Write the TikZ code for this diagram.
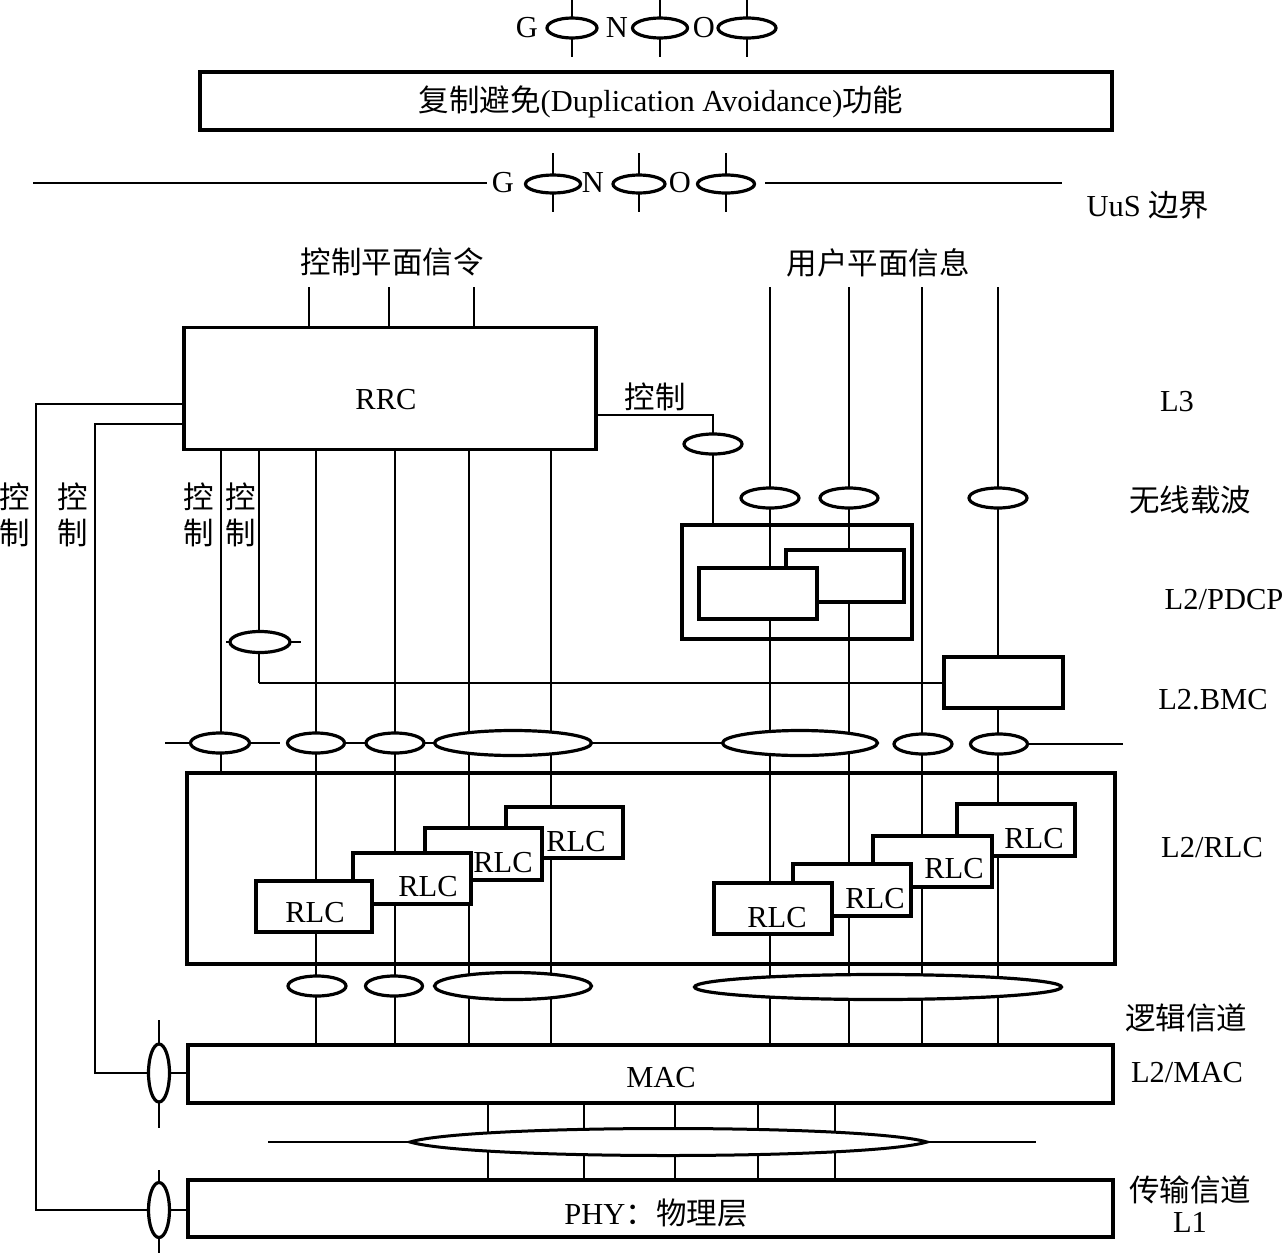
\documentclass[tikz,border=0pt]{standalone}
\usepackage{fontspec}
\setmainfont{Liberation Serif}
\newfontfamily\cjk{Noto Sans CJK SC}
\usetikzlibrary{shapes.geometric,backgrounds}
\begin{document}
\begin{tikzpicture}[x=1pt,y=-1pt,
  font=\fontsize{30.5}{36}\selectfont,
  thinln/.style={line width=1.6pt},
  midln/.style={line width=2.4pt},
  bx/.style={draw,line width=3.4pt,fill=white,inner sep=0pt},
  obx/.style={draw,line width=3.4pt,inner sep=0pt},
  ell/.style={ellipse,draw,line width=3.2pt,fill=white,inner sep=0pt},
  txt/.style={inner sep=0pt},
  cj/.style={inner sep=0pt,font=\fontsize{30.5}{36}\selectfont\cjk},
]
\useasboundingbox (0,0) rectangle (1285,1253);

% ---------- top GNO row ----------
\node[txt] (g1) at (527,28) {G};
\node[ell,minimum width=50,minimum height=20] (e1) at (572,28) {};
\node[txt] (n1) at (617,28) {N};
\node[ell,minimum width=55,minimum height=20] (e2) at (660,28) {};
\node[txt] (o1) at (704,28) {O};
\node[ell,minimum width=58,minimum height=20] (e3) at (747,28) {};
\coordinate (t1) at (572,0);  \coordinate (u1) at (572,57);
\coordinate (t2) at (660,0);  \coordinate (u2) at (660,57);
\coordinate (t3) at (747,0);  \coordinate (u3) at (747,57);

\node[bx,minimum width=912,minimum height=58,
  label={[txt,xshift=5,yshift=-1]center:{\cjk 复制避免}(Duplication Avoidance){\cjk 功能}}] (dup) at (656,101) {};

% ---------- second GNO row ----------
\node[txt] (g2) at (503,183) {G};
\node[ell,minimum width=55,minimum height=18] (e4) at (553,184) {};
\node[txt] (n2) at (593,183) {N};
\node[ell,minimum width=52,minimum height=18] (e5) at (639,184) {};
\node[txt] (o2) at (680,183) {O};
\node[ell,minimum width=57,minimum height=18] (e6) at (726,184) {};
\coordinate (w1) at (553,153); \coordinate (x1) at (553,212);
\coordinate (w2) at (639,153); \coordinate (x2) at (639,212);
\coordinate (w3) at (726,153); \coordinate (x3) at (726,212);
\coordinate (ll1) at (33,183);  \coordinate (ll2) at (487,183);
\coordinate (lr1) at (765,183); \coordinate (lr2) at (1062,183);
\node[txt] (uus) at (1148,205) {UuS {\cjk 边界}};

% ---------- headers ----------
\node[cj] (cpl) at (392,262) {控制平面信令};
\node[cj] (upl) at (878,263) {用户平面信息};

% ---------- RRC ----------
\node[bx,minimum width=412,minimum height=122,
  label={[txt,xshift=-4,yshift=-11.5]center:RRC}] (rrc) at (390,388.5) {};
\node[cj] (ctrl) at (655,397) {控制};
\node[ell,minimum width=58,minimum height=20] (ctl) at (713,444) {};

% user plane bearers
\node[ell,minimum width=58,minimum height=20] (rb1) at (770,498) {};
\node[ell,minimum width=58,minimum height=20] (rb2) at (849,498) {};
\node[ell,minimum width=58,minimum height=20] (rb3) at (998,498) {};

% PDCP
\node[obx,minimum width=230,minimum height=114] (pdcp) at (797,582) {};
\node[bx,minimum width=118,minimum height=52] (pd2) at (845,576) {};
\node[bx,minimum width=118,minimum height=51] (pd1) at (758,593.5) {};

% control ellipse to BMC
\node[ell,minimum width=60,minimum height=21] (ce) at (260,642) {};
\coordinate (cel) at (226,642); \coordinate (cer) at (301,642);

% BMC
\node[bx,minimum width=119,minimum height=51] (bmc) at (1003.5,682.5) {};

% row of radio bearer ellipses above RLC
\node[ell,minimum width=59,minimum height=20] (a1) at (220,743) {};
\node[ell,minimum width=57,minimum height=20] (a2) at (316,743) {};
\node[ell,minimum width=58,minimum height=20] (a3) at (395,743) {};
\node[ell,minimum width=157,minimum height=25] (a4) at (513,743) {};
\node[ell,minimum width=155,minimum height=25] (a5) at (800,743) {};
\node[ell,minimum width=58,minimum height=20] (a6) at (923,744) {};
\node[ell,minimum width=57,minimum height=20] (a7) at (999,744) {};
\coordinate (a1l) at (165,743); \coordinate (a1r) at (280,743);
\coordinate (a7r) at (1123,744);

% RLC layer
\node[obx,minimum width=928,minimum height=191] (rlc) at (651,868.5) {};
\node[bx,minimum width=117,minimum height=51,
  label={[txt,xshift=11.5,yshift=-9.5]center:RLC}] (b4) at (564.5,832.5) {};
\node[bx,minimum width=117,minimum height=52,
  label={[txt,xshift=19.5,yshift=-9]center:RLC}] (b3) at (483.5,854) {};
\node[bx,minimum width=118,minimum height=51,
  label={[txt,xshift=16,yshift=-8.5]center:RLC}] (b2) at (412,878.5) {};
\node[bx,minimum width=116,minimum height=51,
  label={[txt,xshift=1,yshift=-6.5]center:RLC}] (b1) at (314,906.5) {};
\node[bx,minimum width=118,minimum height=52,
  label={[txt,xshift=18,yshift=-9]center:RLC}] (r4) at (1016,830) {};
\node[bx,minimum width=119,minimum height=51,
  label={[txt,xshift=21.5,yshift=-7.5]center:RLC}] (r3) at (932.5,861.5) {};
\node[bx,minimum width=118,minimum height=52,
  label={[txt,xshift=23,yshift=-9]center:RLC}] (r2) at (852,890) {};
\node[bx,minimum width=118,minimum height=51,
  label={[txt,xshift=4,yshift=-9.5]center:RLC}] (r1) at (773,908.5) {};

% logical channels
\node[ell,minimum width=58,minimum height=20] (l1) at (317,986) {};
\node[ell,minimum width=57,minimum height=20] (l2) at (394,986) {};
\node[ell,minimum width=157,minimum height=27] (l3) at (513,986) {};
\node[ell,minimum width=367,minimum height=25] (l4) at (878,987) {};

% MAC / PHY
\node[bx,minimum width=925,minimum height=58,
  label={[txt,xshift=10.5,yshift=-4]center:MAC}] (mac) at (650.5,1074) {};
\node[bx,minimum width=925,minimum height=57,
  label={[txt,xshift=5.5,yshift=-4.5]center:PHY{\cjk ：物理层}}] (phy) at (650.5,1208.5) {};
\node[ell,minimum width=21,minimum height=58] (me) at (159,1073) {};
\node[ell,minimum width=21,minimum height=55] (pe) at (159,1210) {};
\coordinate (mt) at (159,1020); \coordinate (mb) at (159,1128);
\coordinate (pt) at (159,1170); \coordinate (pb) at (159,1253);

% transport channel lens
\coordinate (tl) at (410,1142); \coordinate (tr) at (927,1142);
\coordinate (tl0) at (268,1142); \coordinate (tr0) at (1036,1142);
\draw[line width=3pt,fill=white] (tl) .. controls (470,1124) and (866,1124) .. (tr)
   .. controls (866,1160) and (470,1160) .. (tl) -- cycle;

% control labels (vertical)
\node[cj,align=center] (k1) at (15,515) {控\\制};
\node[cj,align=center] (k2) at (73,515) {控\\制};
\node[cj,align=center] (k3) at (199,515) {控\\制};
\node[cj,align=center] (k4) at (241,515) {控\\制};

% right-side layer labels
\node[txt] (sL3) at (1177,402) {L3};
\node[cj] (swx) at (1190,500) {无线载波};
\node[txt] (spd) at (1224,600) {L2/PDCP};
\node[txt] (sbm) at (1213,700) {L2.BMC};
\node[txt] (srl) at (1212,848) {L2/RLC};
\node[cj] (slj) at (1186,1018) {逻辑信道};
\node[txt] (smc) at (1187,1073) {L2/MAC};
\node[cj] (scs) at (1190,1190) {传输信道};
\node[txt] (sl1) at (1190,1222) {L1};

% vertical line x-positions
\coordinate (vA) at (221,0);  \coordinate (vB) at (259,0);
\coordinate (vC) at (316,0);  \coordinate (vD) at (395,0);
\coordinate (vE) at (469,0);  \coordinate (vF) at (551,0);
\coordinate (vG) at (770,287); \coordinate (vH) at (849,287);
\coordinate (vI) at (922,287); \coordinate (vJ) at (998,287);
\coordinate (vK) at (713,0);
\coordinate (s1) at (309,287); \coordinate (s2) at (389,287); \coordinate (s3) at (474,287);
\coordinate (rc) at (596,415);
\coordinate (lc1) at (184,404); \coordinate (kk1) at (36,404);
\coordinate (lc2) at (184,424); \coordinate (kk2) at (95,424);
\coordinate (p1) at (488,0); \coordinate (p2) at (584,0); \coordinate (p3) at (675,0);
\coordinate (p4) at (758,0); \coordinate (p5) at (835,0);
\coordinate (bk) at (259,683);

\begin{pgfonlayer}{background}
  \draw[thinln] (t1) -- (u1) (t2) -- (u2) (t3) -- (u3);
  \draw[thinln] (w1) -- (x1) (w2) -- (x2) (w3) -- (x3);
  \draw[thinln] (ll1) -- (ll2) (lr1) -- (lr2);
  % RRC top signalling
  \draw[thinln] (s1) -- (s1 |- rrc.north) (s2) -- (s2 |- rrc.north) (s3) -- (s3 |- rrc.north);
  % RRC bottom lines
  \draw[thinln] (vA |- rrc.south) -- (vA |- rlc.north);
  \draw[midln] (vB |- rrc.south) -- (bk);
  \draw[thinln] (bk) -- (bk -| bmc.west);
  \draw[thinln] (cel) -- (cer);
  \foreach \v in {vC,vD,vE,vF} \draw[thinln] (\v |- rrc.south) -- (\v |- mac.north);
  % user plane
  \draw[midln] (vG) -- (vG |- mac.north);
  \draw[thinln] (vH) -- (vH |- mac.north);
  \draw[thinln] (vI) -- (vI |- mac.north);
  \draw[midln] (vJ) -- (vJ |- mac.north);
  % RRC control to PDCP
  \draw[thinln] (rc) -| (vK |- pdcp.north);
  % radio bearer row
  \draw[thinln] (a1l) -- (a1r);
  \draw[thinln] (a2.center) -- (a5.center);
  \draw[thinln] (a7.center) -- (a7r);
  % control to MAC / PHY
  \draw[thinln] (lc1) -- (kk1) |- (pe.west);
  \draw[thinln] (pe.east) -- (pe.east -| phy.west);
  \draw[thinln] (lc2) -- (kk2) |- (me.west);
  \draw[thinln] (me.east) -- (me.east -| mac.west);
  \draw[midln] (mt) -- (mb) (pt) -- (pb);
  % transport channels
  \foreach \v in {p1,p2,p3,p4,p5} \draw[thinln] (\v |- mac.south) -- (\v |- phy.north);
  \draw[thinln] (tl0) -- (tl) (tr) -- (tr0);
\end{pgfonlayer}
\end{tikzpicture}
\end{document}
